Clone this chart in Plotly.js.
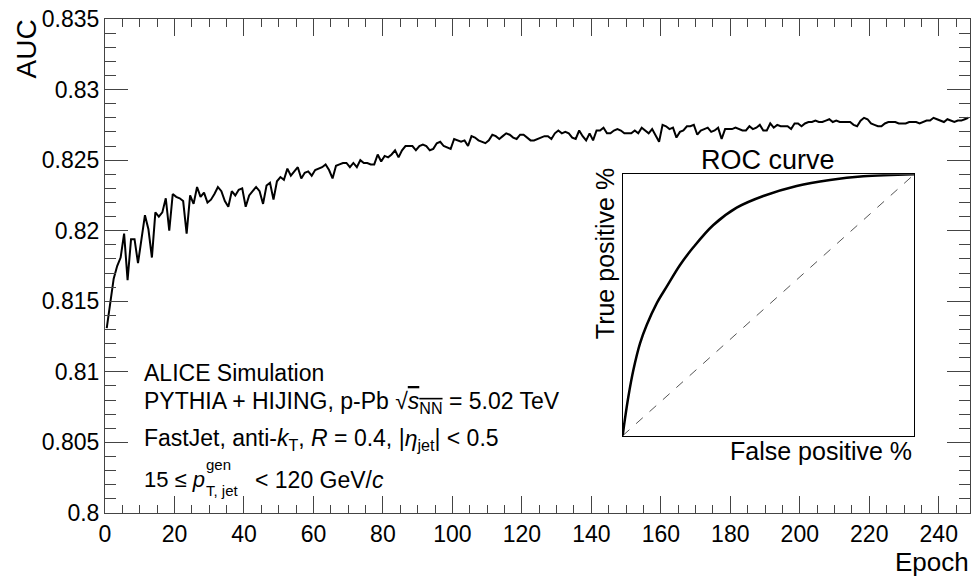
<!DOCTYPE html>
<html>
<head>
<meta charset="utf-8">
<script src="https://cdn.plot.ly/plotly-3.0.1.min.js"></script>
<style>html,body{margin:0;padding:0;background:#fff;}#chart{width:974px;height:576px;}</style>
</head>
<body>
<div id="chart"></div>
<script>
// AUC per epoch, split in blocks of 50 epochs
var aucEpochs0to49 = [
0.8131,0.8148,0.8166,0.8175,0.8181,0.8198,0.8165,0.8194,0.8194,0.8177,
0.8196,0.8211,0.8201,0.8181,0.8213,0.8210,0.8213,0.8223,0.8200,0.8226,
0.8224,0.8223,0.8221,0.8198,0.8225,0.8219,0.8231,0.8224,0.8227,0.8220,
0.8222,0.8226,0.8231,0.8228,0.8221,0.8217,0.8228,0.8225,0.8229,0.8230,
0.8217,0.8225,0.8228,0.8231,0.8228,0.8219,0.8232,0.8234,0.8222,0.8235];
var aucEpochs50to99 = [
0.8238,0.8236,0.8244,0.8239,0.8242,0.8245,0.8237,0.8241,0.8242,0.8239,
0.8243,0.8244,0.8245,0.8247,0.8243,0.8237,0.8246,0.8247,0.8248,0.8248,
0.8245,0.8248,0.8245,0.8250,0.8248,0.8248,0.8247,0.8247,0.8254,0.8249,
0.8253,0.8252,0.8254,0.8257,0.8252,0.8257,0.8260,0.8260,0.8260,0.8257,
0.8260,0.8261,0.8260,0.8257,0.8258,0.8262,0.8263,0.8260,0.8259,0.8258];
var aucEpochs100to149 = [
0.8265,0.8264,0.8263,0.8264,0.8260,0.8267,0.8266,0.8264,0.8263,0.8262,
0.8264,0.8268,0.8267,0.8265,0.8267,0.8269,0.8268,0.8266,0.8265,0.8268,
0.8268,0.8266,0.8264,0.8264,0.8265,0.8266,0.8267,0.8267,0.8265,0.8269,
0.8271,0.8269,0.8270,0.8269,0.8266,0.8265,0.8271,0.8267,0.8264,0.8269,
0.8264,0.8271,0.8271,0.8273,0.8269,0.8269,0.8271,0.8272,0.8271,0.8269];
var aucEpochs150to199 = [
0.8269,0.8269,0.8271,0.8269,0.8273,0.8271,0.8269,0.8272,0.8268,0.8263,
0.8275,0.8274,0.8272,0.8273,0.8266,0.8270,0.8271,0.8274,0.8274,0.8275,
0.8268,0.8271,0.8272,0.8273,0.8270,0.8271,0.8273,0.8265,0.8272,0.8272,
0.8272,0.8273,0.8272,0.8271,0.8271,0.8274,0.8272,0.8273,0.8275,0.8271,
0.8271,0.8276,0.8273,0.8275,0.8274,0.8274,0.8274,0.8272,0.8276,0.8276];
var aucEpochs200to248 = [
0.8274,0.8276,0.8277,0.8277,0.8278,0.8277,0.8277,0.8278,0.8279,0.8277,
0.8278,0.8277,0.8277,0.8277,0.8277,0.8275,0.8274,0.8278,0.8280,0.8279,
0.8276,0.8275,0.8274,0.8274,0.8276,0.8277,0.8277,0.8277,0.8276,0.8276,
0.8276,0.8277,0.8277,0.8277,0.8276,0.8277,0.8278,0.8278,0.8280,0.8279,
0.8278,0.8277,0.8279,0.8278,0.8277,0.8278,0.8278,0.8279,0.8280];

// ROC curve of the inset (false positive rate, true positive rate)
var rocFPR = [0, 0.008, 0.0194, 0.0366, 0.0594, 0.0823, 0.1166, 0.1509, 0.1966, 0.2423, 0.3109, 0.3909, 0.4823, 0.5966, 0.7109, 0.8251, 1];
var rocTPR = [0, 0.0663, 0.1492, 0.2513, 0.3533, 0.4235, 0.5064, 0.5702, 0.6531, 0.7207, 0.8061, 0.8724, 0.9171, 0.9554, 0.9783, 0.9923, 1];
var diagX = [0, 1];
var diagY = [0, 1];

var auc = [].concat(aucEpochs0to49, aucEpochs50to99, aucEpochs100to149, aucEpochs150to199, aucEpochs200to248);
var epochCentres = auc.map(function(_, i){ return i + 0.5; });

var FONT = 'Liberation Sans, Arial, Helvetica, sans-serif';
var AX = '#444';

var traces = [
  {x: epochCentres, y: auc, type: 'scatter', mode: 'lines', line: {color: '#000', width: 2}, xaxis: 'x', yaxis: 'y', hoverinfo: 'skip'},
  {x: diagX, y: diagY, type: 'scatter', mode: 'lines', line: {color: '#555', width: 1, dash: 'dash'}, xaxis: 'x2', yaxis: 'y2', hoverinfo: 'skip'},
  {x: rocFPR, y: rocTPR, type: 'scatter', mode: 'lines', line: {color: '#000', width: 2.5, shape: 'spline', smoothing: 1}, xaxis: 'x2', yaxis: 'y2', hoverinfo: 'skip'}
];

var L = 105, R = 970, T = 19, B = 513;
function px(x){ return (x - L) / (R - L); }
function py(y){ return (B - y) / (B - T); }

function ann(text, x, y, opts){
  var a = {text: text, x: px(x), y: py(y), xref: 'paper', yref: 'paper', showarrow: false,
           font: {family: FONT, size: 23, color: '#000'}, xanchor: 'left', yanchor: 'top'};
  for (var k in opts) a[k] = opts[k];
  return a;
}

var layout = {
  width: 974, height: 576,
  margin: {l: 105, r: 4, t: 19, b: 63},
  paper_bgcolor: '#fff', plot_bgcolor: '#fff',
  showlegend: false,
  font: {family: FONT, color: '#000'},
  xaxis: {
    range: [0, 249], tick0: 0, dtick: 20, ticks: 'inside', ticklen: 17, tickwidth: 1, tickcolor: AX,
    showline: true, linecolor: AX, linewidth: 1, mirror: 'ticks', showgrid: false, zeroline: false,
    tickfont: {family: FONT, size: 23, color: '#000'},
    minor: {dtick: 5, tick0: 0, ticks: 'inside', ticklen: 8, tickwidth: 1, tickcolor: AX, showgrid: false},
    domain: [0, 1], anchor: 'y'
  },
  yaxis: {
    range: [0.8, 0.835], tick0: 0.8, dtick: 0.005, ticks: 'inside', ticklen: 23, tickwidth: 1, tickcolor: AX,
    showline: true, linecolor: AX, linewidth: 1, mirror: 'ticks', showgrid: false, zeroline: false,
    tickfont: {family: FONT, size: 23, color: '#000'},
    minor: {dtick: 0.001, tick0: 0.8, ticks: 'inside', ticklen: 11, tickwidth: 1, tickcolor: AX, showgrid: false},
    domain: [0, 1], anchor: 'x'
  },
  xaxis2: {
    domain: [px(622.7), px(914.3)], anchor: 'y2', range: [0, 1],
    showline: true, linecolor: '#000', linewidth: 1, mirror: true,
    ticks: '', showticklabels: false, showgrid: false, zeroline: false
  },
  yaxis2: {
    domain: [py(435.7), py(174.3)], anchor: 'x2', range: [0, 1],
    showline: true, linecolor: '#000', linewidth: 1, mirror: true,
    ticks: '', showticklabels: false, showgrid: false, zeroline: false
  },
  annotations: [
    ann('AUC', 26, 18, {textangle: -90, xanchor: 'center', yanchor: 'top', font: {family: FONT, size: 28, color: '#000'}}),
    ann('Epoch', 971, 545, {xanchor: 'right', yanchor: 'top', font: {family: FONT, size: 26, color: '#000'}}),
    ann('ROC curve', 768.3, 160, {xanchor: 'center', yanchor: 'middle', font: {family: FONT, size: 27, color: '#000'}}),
    ann('True positive %', 605, 166.7, {textangle: -90, xanchor: 'center', yanchor: 'top', font: {family: FONT, size: 25, color: '#000'}}),
    ann('False positive %', 914, 451, {xanchor: 'right', yanchor: 'middle', font: {family: FONT, size: 25, color: '#000'}}),
    ann('ALICE Simulation', 142, 358),
    ann('PYTHIA + HIJING, p-Pb √<span style="text-decoration:overline"><i>s</i><sub>NN</sub></span> = 5.02 TeV', 142, 385.6),
    ann('FastJet, anti-<i>k</i><sub>T</sub>, <i>R</i> = 0.4, |<i>η</i><sub>jet</sub>| &lt; 0.5', 142, 422.6),
    ann('15 ≤ <i>p</i>', 142, 465, {font: {family: FONT, size: 22, color: '#000'}}),
    ann('gen', 203.5, 454, {font: {family: FONT, size: 15, color: '#000'}}),
    ann('T, jet', 203.5, 480, {font: {family: FONT, size: 15, color: '#000'}}),
    ann('&lt; 120 GeV/<i>c</i>', 252.5, 464.6)
  ]
};

Plotly.newPlot('chart', traces, layout, {staticPlot: true, displayModeBar: false});
</script>
</body>
</html>
